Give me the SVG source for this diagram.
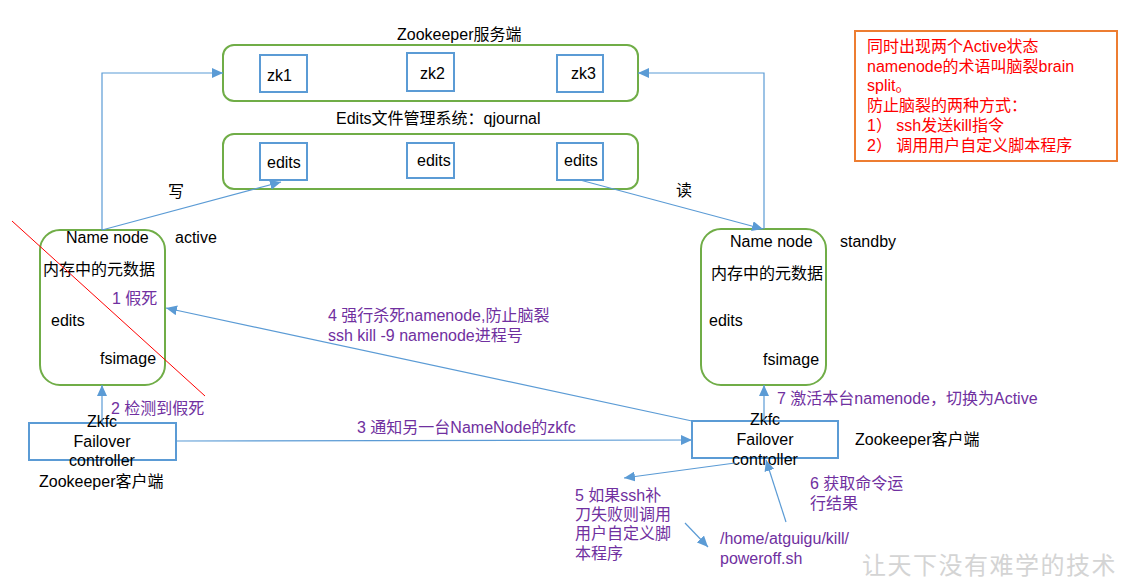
<svg xmlns="http://www.w3.org/2000/svg" width="1126" height="579" viewBox="0 0 1126 579">
<defs>
<style>
text{font-family:"Liberation Sans","Noto Sans CJK SC",sans-serif;font-size:16px;fill:#000}
.p{fill:#7030A0}
.r{fill:#FF0000}
.g{fill:none;stroke:#70AD47;stroke-width:2}
.b{fill:#fff;stroke:#5B9BD5;stroke-width:2}
.c{fill:none;stroke:#5B9BD5;stroke-width:1.2}
.wm{font-family:"Noto Sans CJK SC",sans-serif;font-size:24px;fill:#d4d4d4;letter-spacing:1.5px}
</style>
<marker id="ah" markerUnits="userSpaceOnUse" markerWidth="12" markerHeight="10" refX="11" refY="5" orient="auto">
<path d="M0,0 L11,5 L0,10 Z" fill="#5B9BD5"/>
</marker>
</defs>
<rect width="1126" height="579" fill="#fff"/>

<g id="zkserver">
<text x="397" y="40">Zookeeper服务端</text>
<rect class="g" x="223" y="45" width="415" height="56" rx="11"/>
</g>
<g id="zk1"><rect class="b" x="260" y="55" width="47" height="37"/><text x="267" y="81">zk1</text></g>
<g id="zk2"><rect class="b" x="407" y="53" width="47" height="38"/><text x="420" y="79">zk2</text></g>
<g id="zk3"><rect class="b" x="557" y="55" width="46" height="37"/><text x="571" y="79">zk3</text></g>

<g id="qjournal">
<text x="336" y="124">Edits文件管理系统：qjournal</text>
<rect class="g" x="223" y="134" width="415" height="55" rx="11"/>
</g>
<g id="edits1"><rect class="b" x="260" y="143" width="47" height="37"/><text x="267" y="168">edits</text></g>
<g id="edits2"><rect class="b" x="407" y="143" width="47" height="35"/><text x="417" y="166">edits</text></g>
<g id="edits3"><rect class="b" x="557" y="143" width="46" height="37"/><text x="564" y="166">edits</text></g>

<g id="nn-active">
<rect class="g" x="40" y="230" width="125" height="155" rx="20"/>
<text x="66" y="243">Name node</text>
<text x="175" y="243">active</text>
<text x="43" y="275">内存中的元数据</text>
<text x="51" y="326">edits</text>
<text x="100" y="364">fsimage</text>
</g>

<g id="nn-standby">
<rect class="g" x="701" y="229" width="125" height="156" rx="20"/>
<text x="730" y="247">Name node</text>
<text x="840" y="247">standby</text>
<text x="711" y="279">内存中的元数据</text>
<text x="709" y="326">edits</text>
<text x="763" y="365">fsimage</text>
</g>

<g id="zkfc-active">
<rect class="b" x="29" y="423" width="147" height="37"/>
<text x="102" y="427" text-anchor="middle">Zkfc</text>
<text x="102" y="447" text-anchor="middle">Failover</text>
<text x="102" y="466" text-anchor="middle">controller</text>
<text x="39" y="487">Zookeeper客户端</text>
</g>

<g id="zkfc-standby">
<rect class="b" x="692" y="421" width="146" height="37"/>
<text x="765" y="425" text-anchor="middle">Zkfc</text>
<text x="765" y="445" text-anchor="middle">Failover</text>
<text x="765" y="465" text-anchor="middle">controller</text>
<text x="855" y="445">Zookeeper客户端</text>
</g>

<g id="note">
<rect x="855" y="31" width="262" height="130" fill="none" stroke="#ED7D31" stroke-width="2"/>
<text class="r" x="867" y="52">同时出现两个Active状态</text>
<text class="r" x="867" y="72">namenode的术语叫脑裂brain</text>
<text class="r" x="867" y="91">split。</text>
<text class="r" x="867" y="111">防止脑裂的两种方式：</text>
<text class="r" x="867" y="131">1） ssh发送kill指令</text>
<text class="r" x="867" y="151">2） 调用用户自定义脚本程序</text>
</g>

<g id="script">
<text class="p" x="720" y="544">/home/atguigu/kill/</text>
<text class="p" x="720" y="564">poweroff.sh</text>
</g>

<g id="connectors">
<polyline class="c" points="102,230 102,73 223,73" marker-end="url(#ah)"/>
<polyline class="c" points="764,229 764,73 638,73" marker-end="url(#ah)"/>
<line class="c" x1="102" y1="230" x2="281" y2="182" marker-end="url(#ah)"/>
<line class="c" x1="580" y1="180" x2="763" y2="229" marker-end="url(#ah)"/>
<line class="c" x1="102" y1="423" x2="102" y2="385" marker-end="url(#ah)"/>
<line class="c" x1="764" y1="421" x2="764" y2="385" marker-end="url(#ah)"/>
<line class="c" x1="176" y1="441" x2="692" y2="440" marker-end="url(#ah)"/>
<line class="c" x1="692" y1="421" x2="166" y2="308" marker-end="url(#ah)"/>
<line class="c" x1="735" y1="463" x2="624" y2="478" marker-end="url(#ah)"/>
<line class="c" x1="685" y1="523" x2="708" y2="547" marker-end="url(#ah)"/>
<line class="c" x1="786" y1="522" x2="766" y2="460" marker-end="url(#ah)"/>
<line x1="12" y1="221" x2="205" y2="396" stroke="#FF0000" stroke-width="1"/>
</g>

<g id="labels">
<text x="168" y="197">写</text>
<text x="676" y="196">读</text>
<text class="p" x="112" y="304">1 假死</text>
<text class="p" x="111" y="414">2 检测到假死</text>
<text class="p" x="357" y="433">3 通知另一台NameNode的zkfc</text>
<text class="p" x="328" y="321">4 强行杀死namenode,防止脑裂</text>
<text class="p" x="328" y="341">ssh kill -9 namenode进程号</text>
<text class="p" x="575" y="501">5 如果ssh补</text>
<text class="p" x="575" y="520">刀失败则调用</text>
<text class="p" x="575" y="539">用户自定义脚</text>
<text class="p" x="575" y="559">本程序</text>
<text class="p" x="810" y="489">6 获取命令运</text>
<text class="p" x="810" y="509">行结果</text>
<text class="p" x="777" y="404">7 激活本台namenode，切换为Active</text>
</g>

<text class="wm" x="862" y="574">让天下没有难学的技术</text>
</svg>
